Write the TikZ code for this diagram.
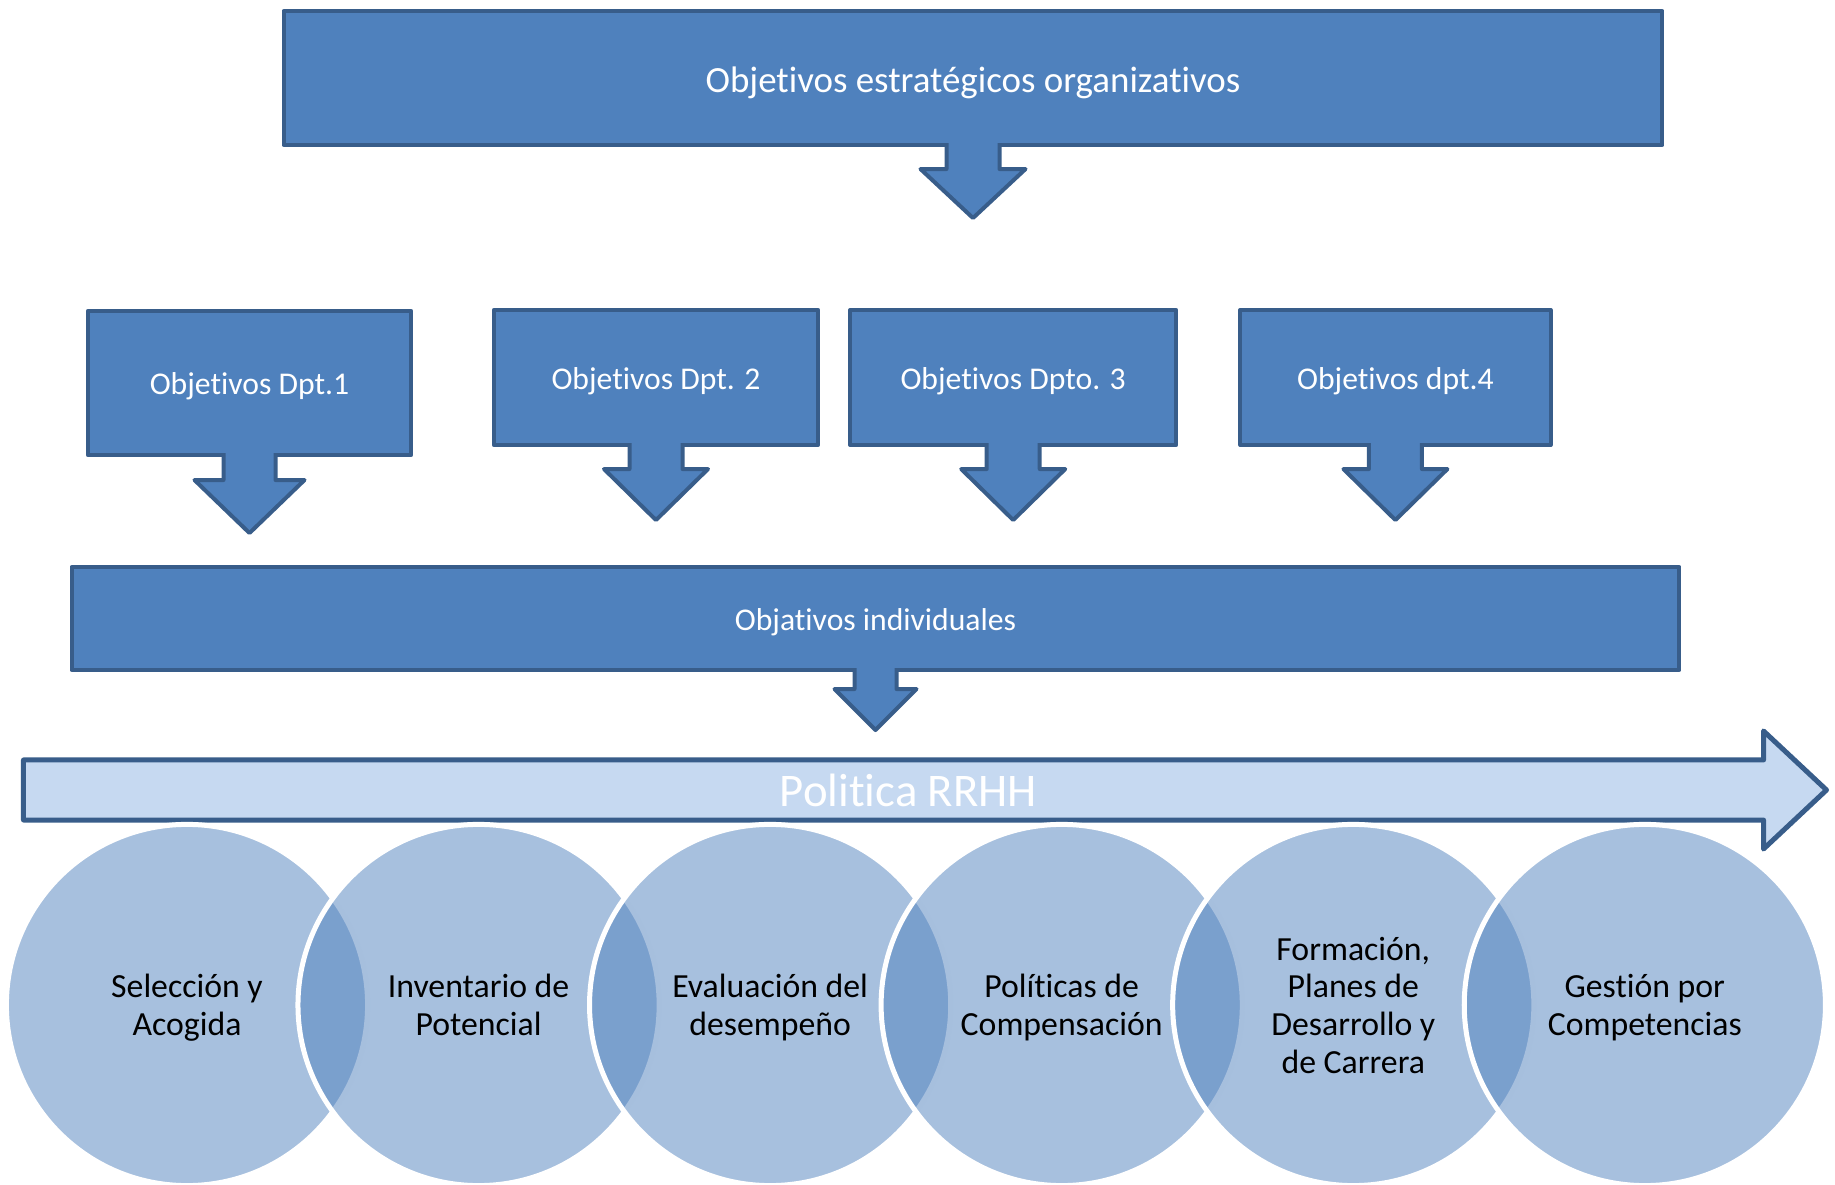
\documentclass[tikz,border=0pt]{standalone}
\usepackage{fontspec}
\setmainfont{Carlito}[Ligatures=NoCommon]
\usepackage{tikz}
\usetikzlibrary{positioning}
\usetikzlibrary{calc}
\definecolor{objblue}{HTML}{4F81BD}
\definecolor{objline}{HTML}{385D8A}
\definecolor{polblue}{HTML}{C6D9F1}
% arrow under a box: node, half stem, half head, neck, tip
\newcommand{\downarrowbox}[5]{%
  \filldraw[callout] ($(#1.south)+(#2,-2)$) -- ($(#1.south)+(#2,#4)$)
    -- ($(#1.south)+(#3,#4)$) -- ($(#1.south)+(0,#5)$)
    -- ($(#1.south)+(-#3,#4)$) -- ($(#1.south)+(-#2,#4)$)
    -- ($(#1.south)+(-#2,-2)$);}

\begin{document}
\begin{tikzpicture}[x=0.01cm,y=-0.01cm,node distance=2.914cm,
  objbox/.style={rectangle,fill=objblue,draw=objline,line width=0.04cm,
    line join=round,outer sep=0pt,inner sep=0pt,text=white,
    text height=6.7pt,text depth=0pt,font=\fontsize{9}{11}\selectfont},
  callout/.style={fill=objblue,draw=objline,line width=0.04cm,line join=round},
  polarrow/.style={fill=polblue,draw=objline,line width=0.05cm,line join=round},
  venn/.style={circle,minimum size=3.61cm,inner sep=0pt,fill=objblue,
    fill opacity=0.5,text opacity=1,draw=white,line width=0.05cm,
    align=center,text depth=0pt,font=\fontsize{9.6}{10.7}\selectfont}]
  \useasboundingbox (0,0) rectangle (1835,1185);

  % top box
  \node[objbox,minimum width=13.78cm,minimum height=1.34cm,text height=8.2pt,
    font=\fontsize{10.5}{12}\selectfont] (org) at (973,78)
    {Objetivos estratégicos organizativos};
  \downarrowbox{org}{26.5}{52.5}{24}{73}

  % departments
  \node[objbox,minimum width=3.23cm,minimum height=1.44cm] (dpt1) at (249.5,383)
    {Objetivos Dpt.1};
  \node[objbox,minimum width=3.24cm,minimum height=1.35cm] (dpt2) at (656,377.5)
    {Objetivos Dpt. 2};
  \node[objbox,minimum width=3.26cm,minimum height=1.35cm] (dpt3) [right=0.32cm of dpt2]
    {Objetivos Dpto. 3};
  \node[objbox,minimum width=3.10cm,minimum height=1.35cm] (dpt4) [right=0.64cm of dpt3]
    {Objetivos dpt.4};
  \downarrowbox{dpt1}{26}{55}{25}{78}
  \downarrowbox{dpt2}{26.5}{52}{24}{75}
  \downarrowbox{dpt3}{26.5}{52}{24}{75}
  \downarrowbox{dpt4}{26.5}{52}{24}{75}

  % individual
  \node[objbox,minimum width=16.07cm,minimum height=1.03cm] (indiv) at (875.5,618.5)
    {Objativos individuales};
  \downarrowbox{indiv}{21}{41}{19}{60}

  % politica arrow
  \node[minimum width=17.39cm,minimum height=0.6cm,inner sep=0pt,outer sep=0pt]
    (pol) at (893.5,790) {};
  \filldraw[polarrow] (pol.north west) -- (pol.north east)
    -- ($(pol.north east)+(0,-29)$) -- ($(pol.east)+(63,0)$)
    -- ($(pol.south east)+(0,29)$) -- (pol.south east) -- (pol.south west) -- cycle;
  \node[text=white,font=\fontsize{13.3}{15}\selectfont] (poltitle)
    at ($(pol.center)+(15,0)$) {Politica RRHH};

  % circles
  \node[venn] (c1) at (187,1005) {Selección y\\Acogida};
  \node[venn] (c2) [right of=c1] {Inventario de\\Potencial};
  \node[venn] (c3) [right of=c2] {Evaluación del\\desempeño};
  \node[venn] (c4) [right of=c3] {Políticas de\\Compensación};
  \node[venn] (c5) [right of=c4] {Formación,\\Planes de\\Desarrollo y\\de Carrera};
  \node[venn] (c6) [right of=c5] {Gestión por\\Competencias};
\end{tikzpicture}
\end{document}
